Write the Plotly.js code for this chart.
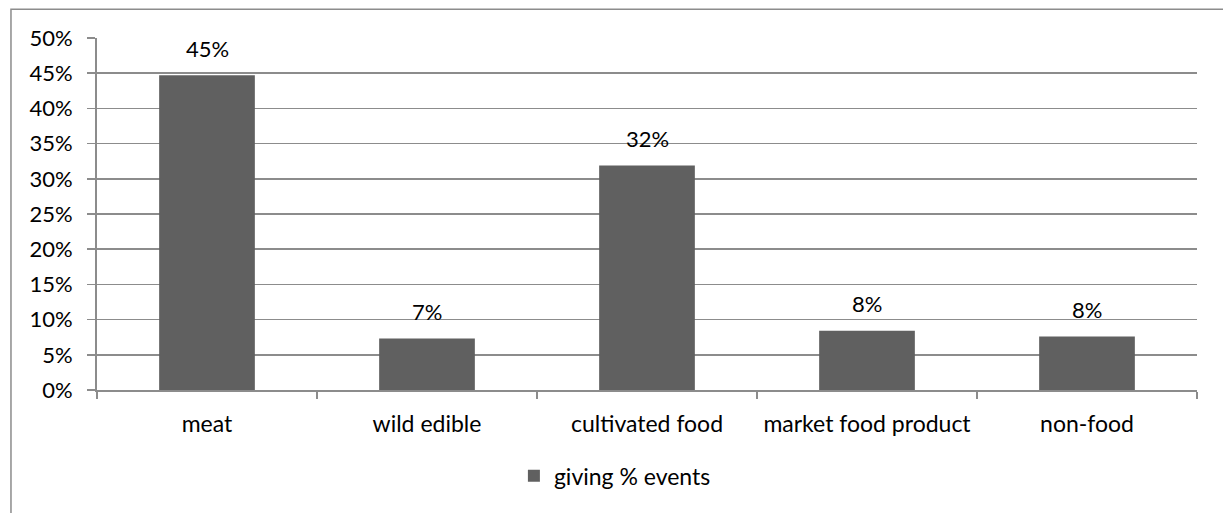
<!DOCTYPE html>
<html>
<head>
<meta charset="utf-8">
<script src="https://cdn.plot.ly/plotly-3.0.1.min.js"></script>
<style>
html,body{margin:0;padding:0;background:#fff;}
#chart{width:1223px;height:513px;}
</style>
</head>
<body>
<div id="chart"></div>
<script>
const categories = ["meat", "wild edible", "cultivated food", "market food product", "non-food"];
const givingShare = [0.447, 0.073, 0.319, 0.084, 0.076];
const valueLabels = ["45%", "7%", "32%", "8%", "8%"];
const seriesName = "giving % events";
const yTickVals = [0, 0.05, 0.10, 0.15, 0.20, 0.25, 0.30, 0.35, 0.40, 0.45, 0.50];
const yTickText = ["0%", "5%", "10%", "15%", "20%", "25%", "30%", "35%", "40%", "45%", "50%"];

const FONT = "Lato, 'Open Sans', sans-serif";
const GRID = "#8c8c8c";

const trace = {
  type: "bar",
  x: categories,
  y: givingShare,
  name: seriesName,
  marker: {color: "#606060"},
  showlegend: true,
  hoverinfo: "none"
};

const annotations = categories.map((c, i) => ({
  x: c, y: givingShare[i], xref: "x", yref: "y",
  text: valueLabels[i], showarrow: false,
  yanchor: "middle", xanchor: "center", yshift: 27,
  font: {family: FONT, size: 22, color: "#000"}
}));

const layout = {
  width: 1223, height: 513,
  margin: {l: 97, r: 26, t: 38, b: 123, pad: 0},
  paper_bgcolor: "#fff", plot_bgcolor: "#fff",
  font: {family: FONT, size: 22, color: "#000"},
  bargap: 0.565,
  xaxis: {
    type: "category",
    showline: true, linecolor: GRID, linewidth: 2,
    ticks: "outside", tickson: "boundaries", ticklen: 7, tickcolor: GRID, tickwidth: 1.5,
    showgrid: false, zeroline: false,
    tickfont: {family: FONT, size: 23, color: "#000"},
    ticklabelstandoff: 12
  },
  yaxis: {
    range: [0, 0.5],
    tickvals: yTickVals, ticktext: yTickText,
    showline: true, linecolor: GRID, linewidth: 2,
    ticks: "outside", ticklen: 8, tickcolor: GRID, tickwidth: 1.5,
    showgrid: true, gridcolor: GRID, gridwidth: 1.5,
    zeroline: false,
    tickfont: {family: FONT, size: 22, color: "#000"},
    ticklabelstandoff: 10
  },
  legend: {
    orientation: "h", x: 0.379, xanchor: "left", y: -0.244, yanchor: "middle",
    font: {family: FONT, size: 23, color: "#000"},
    itemwidth: 30
  },
  annotations: annotations,
  shapes: [{
    type: "rect", xref: "paper", yref: "paper",
    x0: -0.0782, x1: 1.2, y0: -0.6, y1: 1.0815,
    line: {color: GRID, width: 1.5}, fillcolor: "rgba(0,0,0,0)", layer: "below"
  }]
};

Plotly.newPlot("chart", [trace], layout, {displayModeBar: false, staticPlot: true});
</script>
</body>
</html>
